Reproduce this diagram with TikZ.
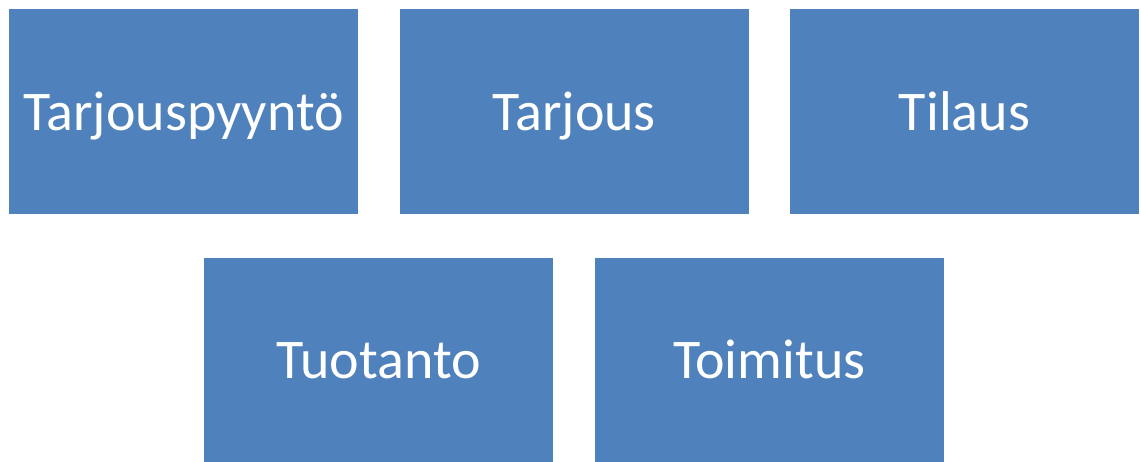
\documentclass[tikz,border=0pt]{standalone}
\usepackage{fontspec}
\setmainfont{Carlito}
\usetikzlibrary{positioning}
\definecolor{stepblue}{HTML}{4F81BD}

\begin{document}
\begin{tikzpicture}[x=1pt,y=1pt,
    stepbox/.style={fill=stepblue,text=white,minimum width=349pt,minimum height=205pt,
      inner sep=0pt,text height=40pt,text depth=3pt,font=\fontsize{56}{60}\selectfont}]
    \useasboundingbox (0,0) rectangle (1141,-462);
    \node[stepbox,anchor=north west] (pyynto) at (9,-9) {Tarjouspyyntö};
    \node[stepbox,right=41pt of pyynto] (tarjous) {Tarjous};
    \node[stepbox,right=41pt of tarjous] (tilaus) {Tilaus};
    \node[stepbox,anchor=north west] (tuotanto) at ([xshift=20.5pt,yshift=-43pt]pyynto.south) {Tuotanto};
    \node[stepbox,right=41pt of tuotanto] (toimitus) {Toimitus};
  \end{tikzpicture}
\end{document}
